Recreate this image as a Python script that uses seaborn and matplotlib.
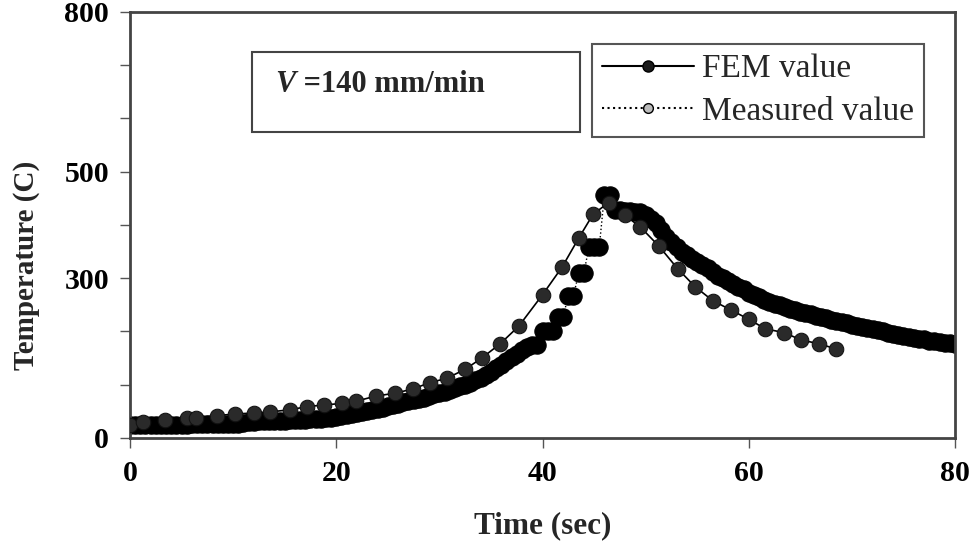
import numpy as np
import matplotlib
matplotlib.use("Agg")
import matplotlib.pyplot as plt
import seaborn as sns
from matplotlib.lines import Line2D
from matplotlib.patches import Rectangle

# FEM value (simulación)
fem_time = [0.0, 1.3, 3.4, 5.5, 6.4, 8.4, 10.2, 12.0, 13.6, 15.5, 17.2, 18.8, 20.6,
            21.9, 23.9, 25.7, 27.4, 29.1, 30.7, 32.5, 34.1, 35.9, 37.7, 40.0, 41.9,
            43.5, 44.9, 46.4, 48.0, 49.5, 51.3, 53.1, 54.8, 56.5, 58.3, 60.0, 61.6,
            63.4, 65.1, 66.8, 68.5]
fem_temp = [25, 30, 33, 37, 38, 42, 45, 47, 49, 53, 59, 62, 65,
            69, 79, 84, 92, 104, 112, 129, 150, 177, 210, 269, 321,
            375, 420, 442, 418, 396, 360, 318, 284, 258, 240, 223, 205,
            198, 184, 177, 167]

# Measured value (termopar, una lectura cada 0.5 s)
meas_time = np.arange(0, 80.5, 0.5)
meas_temp = [24, 24, 24, 25, 25, 25, 25, 25, 25, 25, 25, 25, 26, 26, 26, 26, 26, 26, 26, 26, 26,  # 0-10
             27, 29, 30, 30, 31, 31, 31, 32, 32, 32, 33, 33,                                    # 10.5-16
             34, 34, 35, 35, 36, 37,                                                            # 16.5-19
             38, 40, 42, 43, 45, 47,                                                            # 19.5-22
             49, 51, 53, 55, 57, 60,                                                            # 22.5-25
             62, 64, 67, 69, 71, 74,                                                            # 25.5-28
             76, 79, 82, 84, 87, 90,                                                            # 28.5-31
             93, 97, 100, 104, 108, 112,                                                        # 31.5-34
             118, 124, 131, 138, 145, 152,                                                      # 34.5-37
             158, 165, 171, 175, 175,                                                           # 37.5-39.5
             200, 200, 200, 228, 228, 267, 267, 309, 309, 358, 358, 358, 456, 456,              # 40-46.5
             428, 428, 427, 426, 425, 424, 418, 412, 404, 390,                                  # 47-51.5
             378, 368, 358, 350, 343, 337, 331, 325, 319, 312,                                  # 52-56.5
             305, 300, 294, 289, 284, 279, 273, 268, 264, 260,                                  # 57-61.5
             256, 252, 249, 246, 243, 240, 237, 235, 232, 230,                                  # 62-66.5
             227, 225, 222, 220, 217, 215, 212, 210, 208, 206,                                  # 67-71.5
             204, 202, 200, 198, 196, 194, 192, 190, 188, 186,                                  # 72-76.5
             185, 183, 182, 180, 179, 178, 177]                                                 # 77-80

y_ticks = list(range(0, 801, 100))
y_labels_shown = [0, 300, 500, 800]
x_ticks = [0, 20, 40, 60, 80]

sns.set_style("ticks")
plt.rcParams['font.family'] = ['Liberation Serif', 'DejaVu Serif']

fig = plt.figure(figsize=(9.74, 5.42), dpi=100)
ax = fig.add_axes([0.1335, 0.1919, 0.847, 0.786])

# medido: banda densa de puntos negros
sns.lineplot(x=meas_time, y=meas_temp, ax=ax, color="black", linestyle=":",
             linewidth=1, marker="o", markersize=12.5, markerfacecolor="black",
             markeredgecolor="black", errorbar=None, zorder=2)
# FEM: puntos grises oscuros unidos con línea fina
sns.lineplot(x=fem_time, y=fem_temp, ax=ax, color="black", linewidth=1.2,
             marker="o", markersize=10.5, markerfacecolor="#2a2a2a",
             markeredgecolor="#111111", errorbar=None, zorder=3)

ax.set_xlim(0, 80)
ax.set_ylim(0, 800)
ax.set_xticks(x_ticks)
ax.set_yticks(y_ticks)
ax.set_yticklabels([str(v) if v in y_labels_shown else "" for v in y_ticks])
ax.tick_params(axis="both", direction="out", length=7, width=1, colors="#555555",
               labelcolor="black", labelsize=21.5)
ax.tick_params(axis="y", pad=8)
ax.tick_params(axis="x", pad=9)
for lab in ax.get_xticklabels() + ax.get_yticklabels():
    lab.set_fontweight("bold")

for sp in ax.spines.values():
    sp.set_visible(True)
    sp.set_color("#444444")
    sp.set_linewidth(2)

ax.set_xlabel("Time (sec)", fontsize=22.5, fontweight="bold")
ax.set_ylabel("Temperature (C)", fontsize=21, fontweight="bold")
ax.xaxis.set_label_coords(0.5, -0.172)
ax.yaxis.set_label_coords(-0.109, 0.406)

# recuadro con la velocidad
ax.add_patch(Rectangle((0.148, 0.718), 0.397, 0.188, transform=ax.transAxes,
                       facecolor="white", edgecolor="#444444", linewidth=1.5, zorder=4))
t1 = ax.text(0.176, 0.829, "V", transform=ax.transAxes, fontsize=22,
             fontstyle="italic", fontweight="bold", va="center", zorder=5)
ax.annotate(" =140 mm/min", xy=(1, 0), xycoords=t1, va="bottom", ha="left",
            fontsize=22, fontweight="bold", zorder=5)

# leyenda
handles = [
    Line2D([0], [0], color="black", linewidth=1.5, marker="o", markersize=8,
           markerfacecolor="#1a1a1a", markeredgecolor="black"),
    Line2D([0], [0], color="black", linewidth=1.5, linestyle=":", marker="o",
           markersize=7, markerfacecolor="#bbbbbb", markeredgecolor="black"),
]
leg = ax.legend(handles, ["FEM value", "Measured value"], loc="upper left",
                bbox_to_anchor=(0.56, 0.925), fontsize=24, frameon=True,
                fancybox=False, edgecolor="#555555", framealpha=1,
                handlelength=2.75, handletextpad=0.25, borderpad=0.3,
                labelspacing=0.35, borderaxespad=0)
leg.get_frame().set_linewidth(1.5)

plt.savefig("out.png", dpi=100)
